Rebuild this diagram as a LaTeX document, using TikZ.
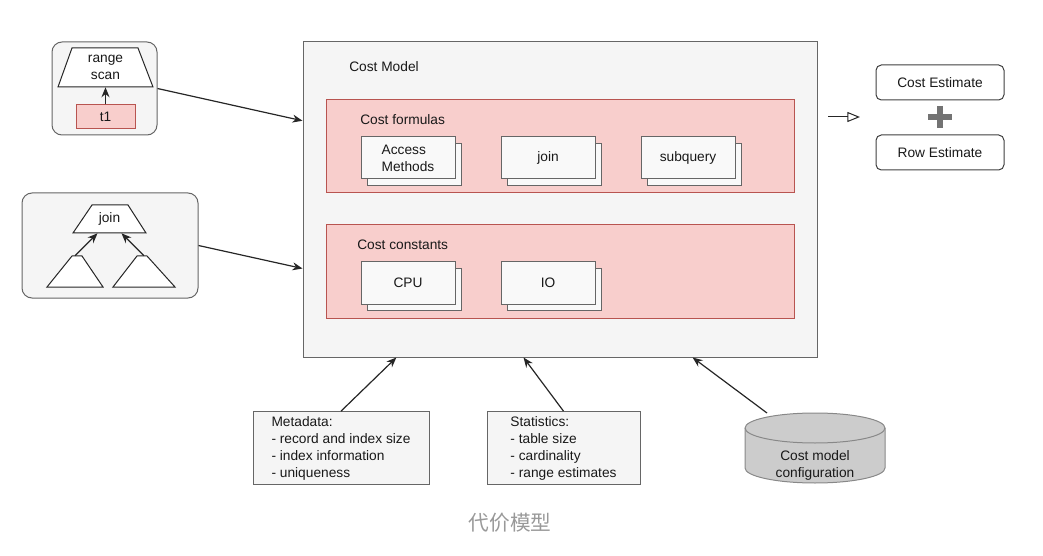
\documentclass[tikz,border=0pt]{standalone}
\usepackage{fontspec}
\setmainfont{Liberation Sans}
\newfontfamily\cjkfont{Noto Sans CJK SC}
\usepackage{tikz}
\usetikzlibrary{arrows.meta,shadows,positioning}
\definecolor{pinkfill}{HTML}{F8CECC}
\definecolor{pinkline}{HTML}{B85450}
\definecolor{grayfill}{HTML}{F5F5F5}
\definecolor{grayline}{HTML}{666666}
\definecolor{cylfill}{HTML}{CCCCCC}
\definecolor{cylline}{HTML}{888888}
\definecolor{capgray}{HTML}{999999}
\tikzset{
	pinkbox/.style={rectangle, draw=pinkline, fill=pinkfill, line width=0.75pt, minimum width=351pt, minimum height=69.75pt},
	graybox/.style={rectangle, draw=grayline, fill=grayfill, line width=0.75pt},
	stackbox/.style={rectangle, draw=grayline, fill=grayfill!60!white, line width=0.75pt, minimum width=70.5pt, minimum height=31.5pt, align=left, copy shadow={shadow xshift=5pt, shadow yshift=-4.8pt}},
	groupbox/.style={rectangle, rounded corners=7.5pt, draw=grayline, fill=grayfill, line width=0.75pt},
	resultbox/.style={rectangle, rounded corners=4pt, draw=black!75, fill=white, line width=0.75pt, minimum width=96pt, minimum height=26.25pt},
	infobox/.style={rectangle, draw=grayline, fill=grayfill, line width=0.75pt, align=left, minimum height=52.5pt},
	trap/.style={draw=black!85, fill=white, line width=0.75pt},
	arr/.style={-{Stealth[length=7.5pt,width=6pt]}, line width=0.9pt, draw=black!85},
	plusline/.style={draw=black!55, line width=3.8pt}
}
\begin{document}
\begin{tikzpicture}[x=0.75pt,y=-0.75pt, every node/.style={font=\fontsize{10.3}{12.75}\selectfont, text=black!90}]
	\useasboundingbox (0,0) rectangle (1043,556);
	
	% cost model
	\node[graybox, minimum width=385.5pt, minimum height=236.25pt] (costmodel) at (560,199.5) {};
	\node[anchor=west, inner sep=0pt] (cmlabel) at (349,67) {Cost Model};
	\node[pinkbox] (formulas) at (560,146.5) {};
	\node[anchor=west, inner sep=0pt] (cflabel) at (360,120) {Cost formulas};
	\node[pinkbox] (constants) at (560,271.5) {};
	\node[anchor=west, inner sep=0pt] (cclabel) at (357,245) {Cost constants};
	\node[stackbox] (access) at (408,158) {Access\\Methods};
	\node[stackbox] (joinf) at (548,158) {join};
	\node[stackbox] (subq) at (688,158) {subquery};
	\node[stackbox] (cpu) at (408,283) {CPU};
	\node[stackbox] (io) at (548,283) {IO};
	
	% range scan plan
	\node[groupbox, minimum width=78.75pt, minimum height=69.75pt] (scangroup) at (104.5,88.5) {};
	\draw[trap] (58,87) -- (153,87) -- (138,48) -- (72,48) -- cycle;
	\node[minimum width=71.25pt, minimum height=29.25pt, align=center] (scan) at (105.5,67.5) {range\\scan};
	\node[rectangle, draw=pinkline, fill=pinkfill, line width=0.75pt, minimum width=44.25pt, minimum height=18pt] (t1) at (105.5,117) {t1};
	\draw[arr] (t1) -- (scan.south);
	
	% join plan
	\node[groupbox, minimum width=132pt, minimum height=78.75pt] (joingroup) at (110,245.5) {};
	\draw[trap] (73,233) -- (146,233) -- (128,205) -- (92,205) -- cycle;
	\node[minimum width=54.75pt, minimum height=21pt] (jointree) at (109.5,219) {join};
	\draw[trap] (47,287) -- (103,287) -- (82,256) -- (72,256) -- cycle;
	\node[minimum width=42pt, minimum height=23.25pt] (lefttri) at (75,271.5) {};
	\draw[trap] (113,287) -- (175,287) -- (147,256) -- (137,256) -- cycle;
	\node[minimum width=46.5pt, minimum height=23.25pt] (righttri) at (144,271.5) {};
	\draw[arr] (lefttri.north) -- (jointree.230);
	\draw[arr] (righttri.north) -- (jointree.310);
	
	\draw[arr] (scangroup.east) -- (costmodel.163);
	\draw[arr] (joingroup.east) -- (costmodel.195);
	
	% results
	\coordinate (outA) at (828,117);
	\coordinate (outB) at (860,117);
	\draw[-{Triangle[open,length=9.5pt,width=7.5pt]}, line width=0.75pt, black!85] (outA) -- (outB);
	\node[resultbox] (costest) at (940,82.5) {Cost Estimate};
	\node[resultbox] (rowest) at (940,152.5) {Row Estimate};
	\draw[plusline] (928,117) -- (952,117);
	\draw[plusline] (940,106) -- (940,128);
	
	% inputs
	\node[infobox, minimum width=132pt] (meta) at (341,448) {Metadata:\\- record and index size\\- index information\\- uniqueness};
	\node[infobox, minimum width=114.75pt] (stats) at (563.5,448) {Statistics:\\- table size\\- cardinality\\- range estimates};
	\draw[draw=cylline, fill=cylfill, line width=0.75pt] (745,428) -- (745,468) arc[start angle=180, end angle=0, x radius=70, y radius=15] -- (885,428) arc[start angle=0, end angle=-180, x radius=70, y radius=15] -- cycle;
	\draw[draw=cylline, line width=0.75pt] (745,428) arc[start angle=180, end angle=0, x radius=70, y radius=15];
	\node[align=center] (cfg) at (815,465) {Cost model\\configuration};
	\coordinate (cfgtop) at (767,413);
	\draw[arr] (meta.north) -- (costmodel.224);
	\draw[arr] (stats.north) -- (costmodel.257);
	\draw[arr] (cfgtop) -- (costmodel.310);
	
	\node[text=capgray, font=\cjkfont\fontsize{15.5}{18}\selectfont] (caption) at (510,523) {代价模型};
\end{tikzpicture}
\end{document}
